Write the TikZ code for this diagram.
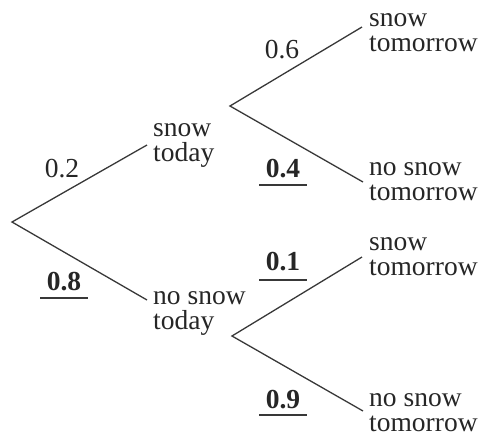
\documentclass[tikz,border=0pt]{standalone}
\usepackage{fontspec}
\setmainfont{Liberation Serif}
\begin{document}
\begin{tikzpicture}[x=1pt,y=-1pt,
  branch/.style={draw=black!78,line width=1.3pt},
  outcome/.style={anchor=north west,inner sep=0pt,align=left,text=black!85,
    font=\fontsize{27.5}{25}\selectfont},
  prob/.style={anchor=base,inner sep=0pt,text=black!85,font=\fontsize{27.5}{25}\selectfont},
  given/.style={prob,font=\fontsize{27.5}{25}\selectfont\bfseries},
  uline/.style={draw=black!78,line width=1.3pt}]
\useasboundingbox (0,0) rectangle (483,440);
% branch points
\coordinate (root) at (12,222);
\coordinate (st) at (147,145);
\coordinate (nst) at (147,300);
\coordinate (b1) at (230,106);
\coordinate (b2) at (232,336);
\coordinate (e1) at (362,27);
\coordinate (e2) at (363,182);
\coordinate (e3) at (362,257);
\coordinate (e4) at (363,411);
% branches
\draw[branch] (st) -- (root) -- (nst);
\draw[branch] (e1) -- (b1) -- (e2);
\draw[branch] (e3) -- (b2) -- (e4);
% outcomes
\node[outcome] (tsnow) at (153,123) {snow\\today};
\node[outcome] (tnosnow) at (153,291) {no snow\\today};
\node[outcome] (o1) at (369,13) {snow\\tomorrow};
\node[outcome] (o2) at (369,162) {no snow\\tomorrow};
\node[outcome] (o3) at (369,237) {snow\\tomorrow};
\node[outcome] (o4) at (369,393) {no snow\\tomorrow};
% probabilities
\node[prob] (p2) at (62,177) {0.2};
\node[given] (p8) at (64,290) {0.8};
\node[prob] (p6) at (282,58) {0.6};
\node[given] (p4) at (283,177) {0.4};
\node[given] (p1) at (283,270) {0.1};
\node[given] (p9) at (283,408) {0.9};
% underlines
\draw[uline] ([xshift=-24pt,yshift=-8pt]p8.base) -- ([xshift=24pt,yshift=-8pt]p8.base);
\draw[uline] ([xshift=-24pt,yshift=-8pt]p4.base) -- ([xshift=24pt,yshift=-8pt]p4.base);
\draw[uline] ([xshift=-24pt,yshift=-10pt]p1.base) -- ([xshift=24pt,yshift=-10pt]p1.base);
\draw[uline] ([xshift=-24pt,yshift=-7pt]p9.base) -- ([xshift=24pt,yshift=-7pt]p9.base);
\end{tikzpicture}
\end{document}
